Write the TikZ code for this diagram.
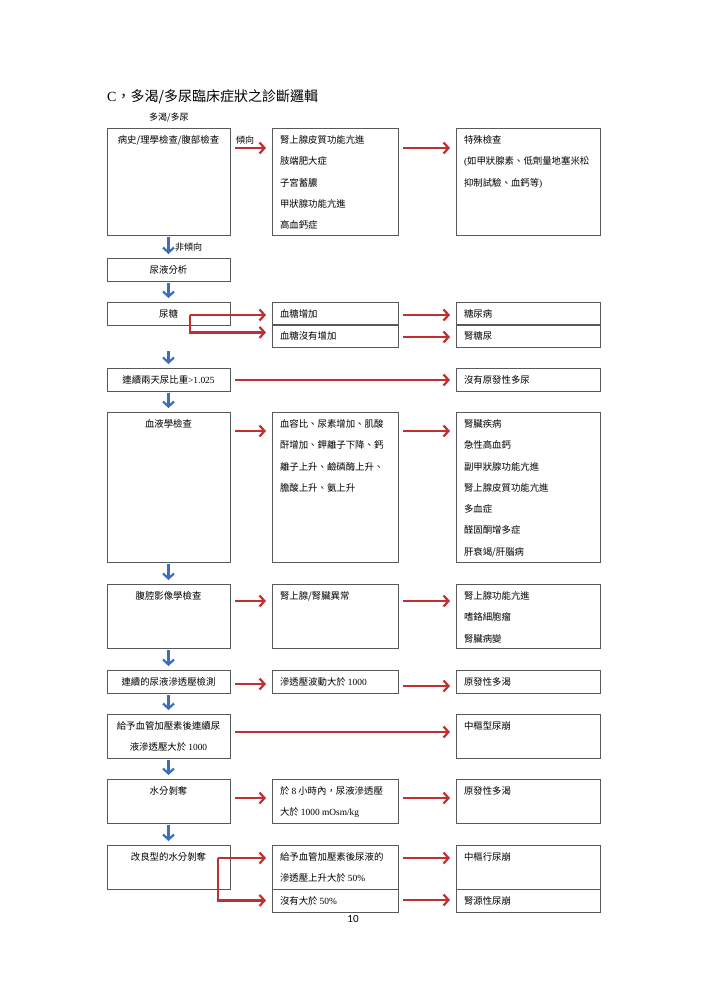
\documentclass[tikz,border=0pt]{standalone}
\usepackage{fontspec}
\setmainfont{Liberation Serif}
\newfontfamily\cjk{Noto Sans CJK TC}
\newfontfamily\pagefont{Carlito}
\usepackage{tikz}
\usetikzlibrary{arrows.meta}
\definecolor{arrowred}{RGB}{192,48,48}
\definecolor{arrowblue}{RGB}{58,110,190}
\newcommand{\latin}[1]{{\rmfamily #1}}
% [alignment], name, x, y, width, height, text
\newcommand{\flowbox}[7][\raggedright]{%
	\node[box] (#2) at (#3, #4)
		{\parbox[t][\dimexpr#6pt-15pt\relax][t]{\dimexpr#5pt-16pt\relax}{#1#7}};
}
\tikzset{
	box/.style={draw=black!65, line width=0.8pt, anchor=north west,
		inner xsep=8pt, inner ysep=7.5pt, outer sep=0pt,
		font=\cjk\fontsize{9.4}{21.3}\selectfont},
	lbl/.style={anchor=west, inner sep=0pt, font=\cjk\fontsize{9}{11}\selectfont},
	redarr/.style={draw=arrowred, line width=2.2pt,
		-{Straight Barb[length=5pt,width=11pt]}, shorten <=5pt, shorten >=6pt},
	bluearr/.style={draw=arrowblue, line width=2.2pt,
		-{Straight Barb[length=5pt,width=11pt]}, shorten <=2pt, shorten >=4pt}
}
\begin{document}
\begin{tikzpicture}[x=1pt, y=-1pt]
\useasboundingbox (0, 0) rectangle (707, 1000);

\node[lbl, font=\cjk\fontsize{14}{16}\selectfont] (title) at (107, 97)
	{\latin{C}，多渴/多尿臨床症狀之診斷邏輯};
\node[lbl] (start) at (149, 118) {多渴/多尿};

% first column
\flowbox[\centering]{hist}{107}{128}{123}{107}{病史/理學檢查/腹部檢查}
\flowbox[\centering]{urin}{107}{258}{123}{22}{尿液分析}
\flowbox[\centering]{sug}{107}{302}{123}{22}{尿糖}
\flowbox[\centering]{sg}{107}{368}{123}{22}{連續兩天尿比重\latin{>1.025}}
\flowbox[\centering]{blood}{107}{412}{123}{150}{血液學檢查}
\flowbox[\centering]{img}{107}{584}{123}{64}{腹腔影像學檢查}
\flowbox[\centering]{osm}{107}{670}{123}{22}{連續的尿液滲透壓檢測}
\flowbox[\centering]{vaso}{107}{714}{123}{44}{給予血管加壓素後連續尿\\液滲透壓大於 \latin{1000}}
\flowbox[\centering]{wd}{107}{779}{123}{44}{水分剝奪}
\flowbox[\centering]{mwd}{107}{845}{123}{44}{改良型的水分剝奪}

% second column
\flowbox{tend}{272}{128}{126}{107}{腎上腺皮質功能亢進\\肢端肥大症\\子宮蓄膿\\甲狀腺功能亢進\\高血鈣症}
\flowbox{glu}{272}{302}{126}{22}{血糖增加}
\flowbox{noglu}{272}{324}{126}{22}{血糖沒有增加}
\flowbox{bres}{272}{412}{126}{150}{血容比、尿素增加、肌酸\\酐增加、鉀離子下降、鈣\\離子上升、鹼磷酶上升、\\膽酸上升、氨上升}
\flowbox{adr}{272}{584}{126}{64}{腎上腺/腎臟異常}
\flowbox{osmr}{272}{670}{126}{22}{滲透壓波動大於 \latin{1000}}
\flowbox{wdr}{272}{779}{126}{44}{於 \latin{8} 小時內，尿液滲透壓\\大於 \latin{1000 mOsm/kg}}
\flowbox{rise}{272}{845}{126}{44}{給予血管加壓素後尿液的\\滲透壓上升大於 \latin{50\%}}
\flowbox{norise}{272}{889}{126}{21}{沒有大於 \latin{50\%}}

% third column
\flowbox{spec}{456}{128}{144}{107}{特殊檢查\\\latin{(}如甲狀腺素、低劑量地塞米松\\抑制試驗、血鈣等\latin{)}}
\flowbox{dm}{456}{302}{144}{22}{糖尿病}
\flowbox{rg}{456}{324}{144}{22}{腎糖尿}
\flowbox{nopri}{456}{368}{144}{22}{沒有原發性多尿}
\flowbox{bdx}{456}{412}{144}{150}{腎臟疾病\\急性高血鈣\\副甲狀腺功能亢進\\腎上腺皮質功能亢進\\多血症\\醛固酮增多症\\肝衰竭/肝腦病}
\flowbox{adx}{456}{584}{144}{64}{腎上腺功能亢進\\嗜鉻細胞瘤\\腎臟病變}
\flowbox{ppda}{456}{670}{144}{22}{原發性多渴}
\flowbox{cdi}{456}{714}{144}{44}{中樞型尿崩}
\flowbox{ppdb}{456}{779}{144}{44}{原發性多渴}
\flowbox{cdib}{456}{845}{144}{44}{中樞行尿崩}
\flowbox{ndi}{456}{889}{144}{21}{腎源性尿崩}

% down the first column
\foreach \a/\b in {hist/urin, urin/sug, sg/blood, blood/img, img/osm, osm/vaso, vaso/wd, wd/mwd}
	\draw[bluearr] (\a.south) -- (\b.north);
\draw[bluearr, shorten <=26pt] (sug.south) -- (sg.north);
\node[lbl] (nontend) at (175, 247) {非傾向};
\node[lbl] (tendlbl) at (236, 140) {傾向};

% to the right, offset from the box tops
\foreach \a/\b/\dy in {hist/tend/20, tend/spec/20, sg/nopri/12, blood/bres/19, bres/bdx/19,
		img/adr/17, adr/adx/17, osm/osmr/14, osmr/ppda/16, vaso/cdi/18, wd/wdr/19,
		wdr/ppdb/19, glu/dm/13, noglu/rg/13, rise/cdib/13, norise/ndi/11}
	\draw[redarr] ([yshift=-\dy pt]\a.north east) -- ([yshift=-\dy pt]\b.north west);

\coordinate (sugfork) at (190, 315);
\draw[redarr, shorten <=0pt] (sugfork) -- (sugfork -| glu.west);
\draw[redarr, shorten <=0pt] (sugfork) |- ([yshift=3pt]noglu.west);
\coordinate (mwdfork) at (218, 858);
\draw[redarr, shorten <=0pt] (mwdfork) -- (mwdfork -| rise.west);
\draw[redarr, shorten <=0pt] (mwdfork) |- (norise.west);

\node[font=\pagefont\fontsize{11}{13}\selectfont] (pagenum) at (353, 919) {10};
\end{tikzpicture}
\end{document}
